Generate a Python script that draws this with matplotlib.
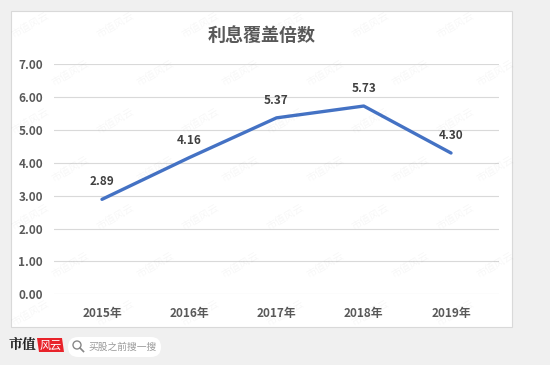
import matplotlib
matplotlib.use("Agg")
import matplotlib.pyplot as plt
from matplotlib.patches import FancyBboxPatch, Circle, Polygon
from matplotlib.lines import Line2D
from matplotlib.transforms import IdentityTransform

plt.rcParams['font.family'] = ['Noto Sans CJK SC', 'DejaVu Sans']

years = ["2015年", "2016年", "2017年", "2018年", "2019年"]
values = [2.89, 4.16, 5.37, 5.73, 4.30]
yticks = [0, 1, 2, 3, 4, 5, 6, 7]
title = "利息覆盖倍数"

W, H = 550, 365
fig = plt.figure(figsize=(W / 100, H / 100), dpi=100)
fig.patch.set_facecolor("#f0f0f0")

def px(x, y):
    return x / W, 1 - y / H

# white panel
x0, y0 = px(11, 327)
x1, y1 = px(512, 11)
panel = FancyBboxPatch((x0, y0), x1 - x0, y1 - y0, boxstyle="square,pad=0",
                       transform=fig.transFigure, facecolor="white",
                       edgecolor="#d9d9d9", linewidth=0.8, zorder=-5)
fig.patches.append(panel)

# watermarks (kept inside the image)
for r in range(7):
    for c in range(7):
        wx = 30 + c * 85 + (r % 2) * 40
        wy = 25 + r * 48
        if wx > 525 or wy > 345:
            continue
        tx, ty = px(wx, wy)
        fig.text(tx, ty, "市值风云", rotation=30, fontsize=7.5, color="#000000",
                 alpha=0.035, ha="center", va="center", zorder=10)

# main axes
left, bottom = px(54, 294.3)
_, top = px(0, 64.3)
ax = fig.add_axes([left, bottom, 445 / W, top - bottom])
ax.set_facecolor("none")
xs = list(range(len(years)))
ax.plot(xs, values, color="#4472C4", linewidth=2.4, solid_capstyle="round", zorder=3)
for x, v in zip(xs, values):
    ax.annotate(f"{v:.2f}", (x, v), xytext=(0, 8), textcoords="offset points",
                ha="center", va="bottom", fontsize=8.5, fontweight="bold", color="#404040")
ax.set_xlim(-0.55, len(years) - 0.45)
ax.set_ylim(0, 7)
ax.set_yticks(yticks)
ax.set_yticklabels([f"{t:.2f}" for t in yticks])
ax.set_xticks(xs)
ax.set_xticklabels(years)
ax.grid(axis="y", color="#d9d9d9", linewidth=0.8)
ax.set_axisbelow(True)
for s in ax.spines.values():
    s.set_visible(False)
ax.tick_params(length=0, labelsize=8.5, labelcolor="#595959", pad=8)
for lab in ax.get_xticklabels():
    lab.set_fontweight("bold")
for lab in ax.get_yticklabels():
    lab.set_fontweight("bold")
ax.tick_params(axis="x", pad=9)

# title
tx, ty = px(262, 35)
fig.text(tx, ty, title, ha="center", va="center", fontsize=13, fontweight="bold", color="#595959")

# bottom logo (pixel coordinates, origin bottom-left)
ident = IdentityTransform()
def P(x, y):
    return (x, H - y)

lx, ly = px(9, 345)
fig.text(lx, ly, "市值", ha="left", va="center", fontsize=10, fontweight="bold",
         color="#222222", family=["Noto Serif CJK SC", "Noto Sans CJK SC", "DejaVu Sans"])
fig.patches.append(Polygon([P(39, 352), P(64, 352), P(62, 338), P(37, 338)], closed=True,
                           transform=ident, facecolor="#e8232a", edgecolor="none", zorder=5))
fx, fy = px(50.5, 345.5)
fig.text(fx, fy, "风云", ha="center", va="center", fontsize=8, fontstyle="italic",
         color="white", zorder=6)
px0, py0 = P(68, 357)
fig.patches.append(FancyBboxPatch((px0, py0), 93, 20,
                                  boxstyle="round,pad=0,rounding_size=10",
                                  transform=ident, facecolor="white",
                                  edgecolor="none", zorder=5))
fig.patches.append(Circle(P(77, 345), 4, transform=ident, fill=False,
                          edgecolor="#888888", linewidth=1, zorder=6))
fig.lines.append(Line2D([P(80, 348)[0], P(83.5, 351.5)[0]], [P(80, 348)[1], P(83.5, 351.5)[1]],
                        transform=ident, color="#888888", linewidth=1.2, zorder=6))
stx, sty = px(88, 346.5)
fig.text(stx, sty, "买股之前搜一搜", ha="left", va="center", fontsize=7, color="#999999", zorder=6)

fig.savefig("out.png", dpi=100, facecolor=fig.get_facecolor())
